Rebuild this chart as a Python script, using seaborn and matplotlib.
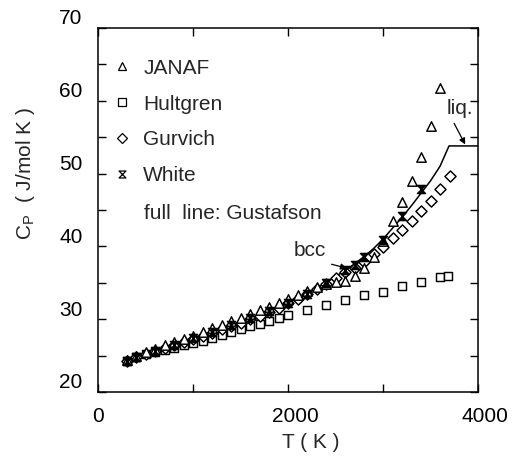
import numpy as np
import pandas as pd
import matplotlib
matplotlib.use("Agg")
import matplotlib.pyplot as plt
import matplotlib.transforms as mtransforms
from matplotlib.path import Path
from matplotlib.lines import Line2D
import seaborn as sns

# ---------------- data ----------------
janaf_T = [300, 400, 500, 600, 700, 800, 900, 1000, 1100, 1200, 1300, 1400, 1500,
           1600, 1700, 1800, 1900, 2000, 2100, 2200, 2300, 2400, 2500, 2600, 2700,
           2800, 2900, 3000, 3100, 3200, 3300, 3400, 3500, 3600]
janaf_cp = [24.4, 25.0, 25.5, 25.9, 26.4, 26.8, 27.3, 27.7, 28.2, 28.8, 29.2, 29.7, 30.2,
            30.7, 31.2, 31.7, 32.2, 32.8, 33.3, 33.9, 34.4, 34.8, 35.1, 35.3, 36.0,
            37.1, 38.6, 40.7, 43.5, 46.1, 49.0, 52.3, 56.5, 61.7]

hult_T = [300, 400, 500, 600, 700, 800, 900, 1000, 1100, 1200, 1300, 1400, 1500,
          1600, 1700, 1800, 1900, 2000, 2200, 2400, 2600, 2800, 3000, 3200, 3400,
          3600, 3680]
hult_cp = [24.3, 24.8, 25.2, 25.5, 25.8, 26.1, 26.4, 26.7, 27.0, 27.4, 27.8, 28.2, 28.6,
           29.0, 29.4, 29.8, 30.2, 30.6, 31.3, 31.9, 32.6, 33.3, 33.8, 34.6, 35.1,
           35.8, 36.0]

gurv_T = [300, 400, 500, 600, 700, 800, 900, 1000, 1100, 1200, 1300, 1400, 1500,
          1600, 1700, 1800, 1900, 2000, 2100, 2200, 2300, 2400, 2500, 2600, 2700,
          2800, 2900, 3000, 3100, 3200, 3300, 3400, 3500, 3600, 3700]
gurv_cp = [24.3, 24.8, 25.2, 25.6, 26.0, 26.4, 26.8, 27.3, 27.7, 28.1, 28.6, 29.0, 29.5,
           30.0, 30.5, 31.0, 31.6, 32.2, 32.8, 33.4, 34.1, 34.9, 35.7, 36.5, 37.1,
           37.9, 38.9, 39.9, 41.1, 42.3, 43.5, 44.9, 46.3, 47.9, 49.7]

white_T = [300, 400, 600, 800, 1000, 1200, 1400, 1600, 1800, 2000, 2200, 2400, 2600,
           2700, 2800, 3000, 3200, 3400]
white_cp = [24.2, 24.8, 25.7, 26.5, 27.4, 28.3, 29.2, 30.1, 31.1, 32.2, 33.5, 35.0, 36.7,
            37.5, 38.6, 40.9, 44.2, 47.9]

# Gustafson assessment (full line)
gus_T = [298, 400, 500, 600, 800, 1000, 1200, 1400, 1600, 1800, 2000, 2200, 2400,
         2600, 2700, 2800, 2900, 3000, 3100, 3200, 3300, 3400, 3500, 3600, 3695, 4000]
gus_cp = [24.3, 24.8, 25.3, 25.7, 26.5, 27.4, 28.3, 29.2, 30.1, 31.1, 32.2, 33.5, 35.0,
          36.7, 37.6, 38.6, 39.7, 41.0, 42.5, 44.0, 45.6, 47.3, 49.0, 51.0, 53.8, 53.8]

labels = ["JANAF", "Hultgren", "Gurvich", "White"]
x_ticks = [0, 1000, 2000, 3000, 4000]
x_ticklabels = ["0", "", "2000", "", "4000"]
y_ticks = [20, 25, 30, 35, 40, 45, 50, 55, 60, 65, 70]
y_ticklabels = ["20", "", "30", "", "40", "", "50", "", "60", "", "70"]

# ---------------- style ----------------
FS = 15
sns.set_theme(style="ticks")
plt.rcParams["font.family"] = ["Liberation Sans", "DejaVu Sans"]
plt.rcParams["mathtext.fontset"] = "custom"
plt.rcParams["mathtext.rm"] = "Liberation Sans"
plt.rcParams["mathtext.it"] = "Liberation Sans"

fig = plt.figure(figsize=(5.13, 4.59), dpi=100)
ax = fig.add_axes([98 / 513, 1 - 392 / 459, 380 / 513, 364 / 459])

hourglass = Path([(-1, 1), (1, 1), (-1, -1), (1, -1), (-1, 1)],
                 [Path.MOVETO, Path.LINETO, Path.LINETO, Path.LINETO, Path.CLOSEPOLY])

df_line = pd.DataFrame({"T": gus_T, "Cp": gus_cp})
sns.lineplot(data=df_line, x="T", y="Cp", ax=ax, color="black", lw=1.1,
             sort=False, estimator=None)

common = dict(edgecolor="black", linewidth=1.05, zorder=3, legend=False)
sns.scatterplot(x=hult_T, y=hult_cp, ax=ax, marker="s", s=34, facecolor="white", **common)
sns.scatterplot(x=gurv_T, y=gurv_cp, ax=ax, marker="D", s=32, facecolor="white", **common)
sns.scatterplot(x=janaf_T, y=janaf_cp, ax=ax, marker="^", s=46, facecolor="white", **common)
sns.scatterplot(x=white_T, y=white_cp, ax=ax, marker=hourglass, s=34, facecolor="black", **common)

ax.set_xlim(0, 4000)
ax.set_ylim(20, 70)
ax.set_xticks(x_ticks)
ax.set_xticklabels(x_ticklabels)
ax.set_yticks(y_ticks)
ax.set_yticklabels(y_ticklabels)
ax.tick_params(direction="in", length=6, width=1, top=True, right=True,
               labelsize=FS, colors="black")
ax.tick_params(axis="x", pad=11)
ax.tick_params(axis="y", pad=11)
for sp in ax.spines.values():
    sp.set_linewidth(1.1)
    sp.set_color("black")

# shift tick labels slightly as in the reference
offset_y = mtransforms.ScaledTranslation(0, 8 / 72, fig.dpi_scale_trans)
for lab in ax.get_yticklabels():
    lab.set_transform(lab.get_transform() + offset_y)
offset_x = mtransforms.ScaledTranslation(5 / 72, 0, fig.dpi_scale_trans)
for lab in ax.get_xticklabels():
    if lab.get_text() in ("2000", "4000"):
        lab.set_transform(lab.get_transform() + offset_x)

ax.set_xlabel("T ( K )", fontsize=FS)
ax.xaxis.set_label_coords(0.56, -0.112)
ax.set_ylabel(r"$\mathrm{C_P}$  ( J/mol K )", fontsize=FS)
ax.yaxis.set_label_coords(-0.16, 0.6)

# legend
handles = [
    Line2D([], [], ls="none", marker="^", ms=6, mfc="white", mec="black", mew=0.9),
    Line2D([], [], ls="none", marker="s", ms=5.5, mfc="white", mec="black", mew=0.9),
    Line2D([], [], ls="none", marker="D", ms=5, mfc="white", mec="black", mew=0.9),
    Line2D([], [], ls="none", marker=hourglass, ms=5, mfc="white", mec="black", mew=0.9),
]
leg = ax.legend(handles, labels, loc="upper left", bbox_to_anchor=(0.0195, 0.933),
                frameon=False, fontsize=FS, handlelength=1.0, handletextpad=0.51,
                labelspacing=0.81, borderaxespad=0.0, borderpad=0.3)
ax.text(0.121, 0.49, "full  line: Gustafson", transform=ax.transAxes, fontsize=FS,
        ha="left", va="center")

# annotations
ax.annotate("bcc", xy=(2620, 37.0), xytext=(2230, 39.4), fontsize=FS,
            ha="center", va="center",
            arrowprops=dict(arrowstyle="-|>", color="black", lw=0.9, relpos=(0.7, 0.0),
                            shrinkA=2, shrinkB=0, mutation_scale=9))
ax.annotate("liq.", xy=(3865, 54.0), xytext=(3815, 59.0), fontsize=FS,
            ha="center", va="center",
            arrowprops=dict(arrowstyle="-|>", color="black", lw=0.9, relpos=(0.15, 0.0),
                            shrinkA=2, shrinkB=0, mutation_scale=9))

fig.savefig("out.png", dpi=100, facecolor="white")
